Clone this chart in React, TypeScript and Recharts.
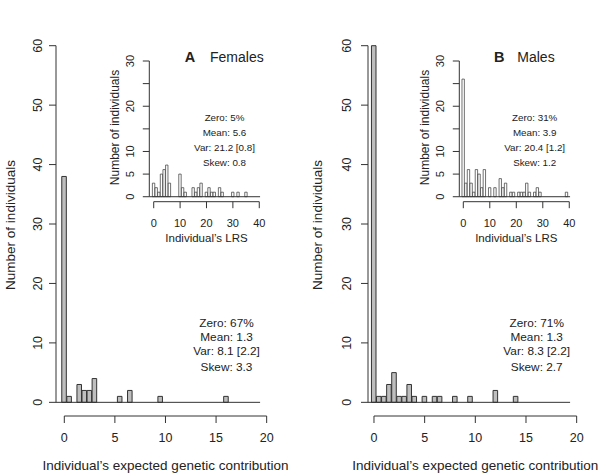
import { ComposedChart, Bar, XAxis, YAxis, ReferenceLine } from 'recharts';

const FONT = '"Liberation Sans", Arial, Helvetica, sans-serif';
const INK = '#222';
const LINE = '#333';

// expected genetic contribution, bins of width 0.5 (centres)
const femaleContribBins = [0, 0.5, 1.5, 2, 2.5, 3, 5.5, 6.5, 9.5, 16];
const femaleContribCounts = [38, 1, 3, 2, 2, 4, 1, 2, 1, 1];
const maleContribBins = [0, 0.5, 1, 1.5, 2, 2.5, 3, 3.5, 4, 5, 6, 6.5, 8, 9.5, 12, 14];
const maleContribCounts = [60, 1, 1, 3, 5, 1, 1, 3, 1, 1, 1, 1, 1, 1, 2, 1];

// lifetime reproductive success (insets), bins of width 1
const femaleLrsBins = [0, 1, 2, 3, 4, 5, 6, 10, 11, 12, 15, 16, 17, 18, 20, 21, 22, 23, 25, 26, 30, 32, 35];
const femaleLrsCounts = [3, 2, 1, 5, 6, 7, 3, 5, 2, 1, 2, 1, 2, 3, 1, 2, 1, 1, 2, 1, 1, 1, 1];
const maleLrsBins = [0, 1, 2, 3, 4, 5, 6, 7, 8, 10, 12, 14, 15, 16, 18, 19, 21, 22, 23, 24, 25, 27, 28, 29, 39];
const maleLrsCounts = [26, 3, 6, 3, 1, 6, 5, 2, 6, 2, 2, 4, 2, 3, 1, 1, 1, 1, 1, 3, 1, 1, 2, 1, 1];

const contribTicks = [0, 5, 10, 15, 20];
const countTicks = [0, 10, 20, 30, 40, 50, 60];
const lrsTicks = [0, 10, 20, 30, 40];
const lrsCountTicks = [0, 5, 10, 15, 20, 25, 30];
const lrsCountLabels = [0, 5, 10, 20, 30];

const femaleStats = ['Zero: 67%', 'Mean: 1.3', 'Var: 8.1 [2.2]', 'Skew: 3.3'];
const femaleLrsStats = ['Zero: 5%', 'Mean: 5.6', 'Var: 21.2 [0.8]', 'Skew: 0.8'];
const maleStats = ['Zero: 71%', 'Mean: 1.3', 'Var: 8.3 [2.2]', 'Skew: 2.7'];
const maleLrsStats = ['Zero: 31%', 'Mean: 3.9', 'Var: 20.4 [1.2]', 'Skew: 1.2'];

const W = 600;
const H = 473;

type HistProps = {
  bins: number[];
  counts: number[];
  xDomain: [number, number];
  yDomain: [number, number];
  xTicks: number[];
  yTicks: number[];
  yLabels: number[];
  yTop: number;
  baseEnd: number;
  plot: { left: number; right: number; top: number; bottom: number };
  barSize: number;
  fill: string;
  barStroke: number;
  fontSize: number;
  tickLen: number;
  xLabelGap: number;
  yLabelGap: number;
};

const Hist = (p: HistProps) => {
  const data = p.bins.map((b, i) => ({ x: b, n: p.counts[i] }));
  const xTick = (t: any) => (
    <text x={t.x} y={t.y} textAnchor="middle" dominantBaseline="central" fontSize={p.fontSize} fill={INK} fontFamily={FONT}>
      {t.payload.value}
    </text>
  );
  const yTick = (t: any) =>
    p.yLabels.includes(t.payload.value) ? (
      <text transform={`translate(${t.x},${t.y}) rotate(-90)`} textAnchor="middle" dominantBaseline="central" fontSize={p.fontSize} fill={INK} fontFamily={FONT}>
        {t.payload.value}
      </text>
    ) : (
      <g />
    );
  return (
    <div style={{ position: 'absolute', left: 0, top: 0 }}>
      <ComposedChart
        width={W}
        height={H}
        data={data}
        margin={{ top: p.plot.top, right: W - p.plot.right, bottom: 0, left: 0 }}
      >
        <XAxis
          dataKey="x"
          type="number"
          domain={p.xDomain}
          ticks={p.xTicks}
          interval={0}
          axisLine={false}
          stroke={LINE}
          tickSize={p.tickLen}
          tickMargin={p.xLabelGap}
          height={H - p.plot.bottom}
          tick={xTick}
        />
        <YAxis
          type="number"
          domain={p.yDomain}
          ticks={p.yTicks}
          interval={0}
          axisLine={false}
          stroke={LINE}
          tickSize={p.tickLen}
          tickMargin={p.yLabelGap}
          width={p.plot.left}
          tick={yTick}
        />
        <ReferenceLine
          segment={[{ x: p.xDomain[0], y: 0 }, { x: p.xDomain[0], y: p.yTop }]}
          stroke={LINE}
          ifOverflow="visible"
        />
        <ReferenceLine
          segment={[{ x: p.xTicks[0], y: p.yDomain[0] }, { x: p.xTicks[p.xTicks.length - 1], y: p.yDomain[0] }]}
          stroke={LINE}
          ifOverflow="visible"
        />
        <ReferenceLine
          segment={[{ x: p.xDomain[0], y: 0 }, { x: p.baseEnd, y: 0 }]}
          stroke={LINE}
          ifOverflow="visible"
        />
        <Bar dataKey="n" barSize={p.barSize} fill={p.fill} stroke={LINE} strokeWidth={p.barStroke} isAnimationActive={false} />
      </ComposedChart>
    </div>
  );
};

const StatBlock = ({ lines, x, ys, size }: { lines: string[]; x: number; ys: number[]; size: number }) => (
  <>
    {lines.map((s, i) => (
      <text key={s} x={x} y={ys[i]} textAnchor="middle" dominantBaseline="central" fontSize={size}>
        {s}
      </text>
    ))}
  </>
);

export default function App() {
  const mainYs = [322.7, 337.3, 351, 366.5];
  const insetYs = [117.5, 132.3, 147, 162.5];
  return (
    <div style={{ position: 'absolute', left: 0, top: 0, width: W, height: H, background: '#fff', fontFamily: FONT }}>
      {/* A: females */}
      <Hist
        bins={femaleContribBins}
        counts={femaleContribCounts}
        xDomain={[-0.82, 20.25]}
        yDomain={[-2.3, 60]}
        xTicks={contribTicks}
        yTicks={countTicks}
        yLabels={countTicks}
        yTop={60}
        baseEnd={19.35}
        plot={{ left: 56, right: 269.2, top: 45.7, bottom: 416 }}
        barSize={5.06}
        fill="#bebebe"
        barStroke={1}
        fontSize={12.5}
        tickLen={7}
        xLabelGap={14.7}
        yLabelGap={11}
      />
      <Hist
        bins={femaleLrsBins}
        counts={femaleLrsCounts}
        xDomain={[-1.67, 40.5]}
        yDomain={[-1.1, 30]}
        xTicks={lrsTicks}
        yTicks={lrsCountTicks}
        yLabels={lrsCountLabels}
        yTop={30}
        baseEnd={40.3}
        plot={{ left: 149.3, right: 260.6, top: 61, bottom: 201.7 }}
        barSize={2.64}
        fill="#fff"
        barStroke={0.7}
        fontSize={11}
        tickLen={6.5}
        xLabelGap={15}
        yLabelGap={12.8}
      />
      {/* B: males */}
      <Hist
        bins={maleContribBins}
        counts={maleContribCounts}
        xDomain={[-0.59, 20.25]}
        yDomain={[-2.3, 60]}
        xTicks={contribTicks}
        yTicks={countTicks}
        yLabels={countTicks}
        yTop={60}
        baseEnd={19.35}
        plot={{ left: 368, right: 579.2, top: 45.7, bottom: 416 }}
        barSize={5.07}
        fill="#bebebe"
        barStroke={1}
        fontSize={12.5}
        tickLen={7}
        xLabelGap={14.7}
        yLabelGap={14}
      />
      <Hist
        bins={maleLrsBins}
        counts={maleLrsCounts}
        xDomain={[-1.51, 40.5]}
        yDomain={[-1.1, 30]}
        xTicks={lrsTicks}
        yTicks={lrsCountTicks}
        yLabels={lrsCountLabels}
        yTop={30}
        baseEnd={40.3}
        plot={{ left: 459.3, right: 570.6, top: 61, bottom: 201.7 }}
        barSize={2.65}
        fill="#fff"
        barStroke={0.7}
        fontSize={11}
        tickLen={6.5}
        xLabelGap={15}
        yLabelGap={12.8}
      />
      <svg width={W} height={H} style={{ position: 'absolute', left: 0, top: 0 }} fill={INK} fontFamily={FONT}>
        <text x={190} y={57} textAnchor="middle" dominantBaseline="central" fontSize={14.5} fontWeight="bold">A</text>
        <text x={210} y={57} dominantBaseline="central" fontSize={14}>Females</text>
        <text x={499.3} y={57} textAnchor="middle" dominantBaseline="central" fontSize={14.5} fontWeight="bold">B</text>
        <text x={517.3} y={57} dominantBaseline="central" fontSize={14}>Males</text>

        <text transform="translate(10,225) rotate(-90)" textAnchor="middle" dominantBaseline="central" fontSize={13.5}>Number of individuals</text>
        <text x={165.5} y={465} textAnchor="middle" dominantBaseline="central" fontSize={13.5}>Individual’s expected genetic contribution</text>
        <text transform="translate(317.5,225) rotate(-90)" textAnchor="middle" dominantBaseline="central" fontSize={13.5}>Number of individuals</text>
        <text x={475.3} y={465} textAnchor="middle" dominantBaseline="central" fontSize={13.5}>Individual’s expected genetic contribution</text>

        <text transform="translate(115.3,127.5) rotate(-90)" textAnchor="middle" dominantBaseline="central" fontSize={12}>Number of individuals</text>
        <text x={206.5} y={237.7} textAnchor="middle" dominantBaseline="central" fontSize={11.5}>Individual’s LRS</text>
        <text transform="translate(425.3,127.5) rotate(-90)" textAnchor="middle" dominantBaseline="central" fontSize={12}>Number of individuals</text>
        <text x={516.3} y={237.7} textAnchor="middle" dominantBaseline="central" fontSize={11.5}>Individual’s LRS</text>

        <StatBlock lines={femaleStats} x={226.5} ys={mainYs} size={11.8} />
        <StatBlock lines={maleStats} x={536.7} ys={mainYs} size={11.8} />
        <StatBlock lines={femaleLrsStats} x={224.5} ys={insetYs} size={9.8} />
        <StatBlock lines={maleLrsStats} x={534.7} ys={insetYs} size={9.8} />
      </svg>
    </div>
  );
}
